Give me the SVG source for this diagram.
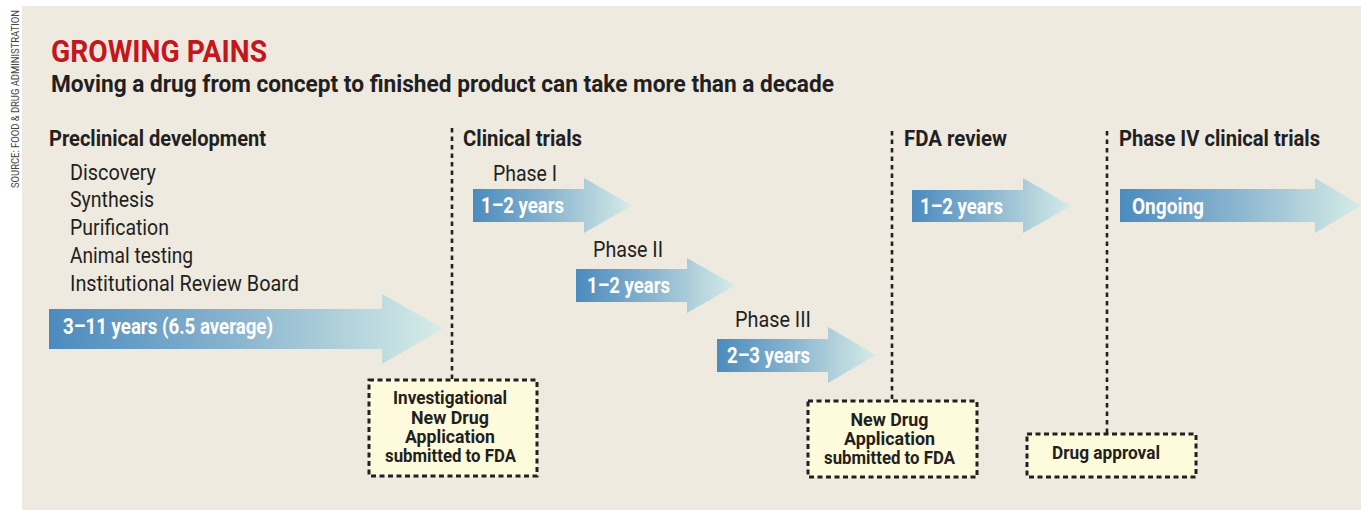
<svg xmlns="http://www.w3.org/2000/svg" width="1361" height="510" viewBox="0 0 1361 510">
  <defs>
    <linearGradient id="flow" x1="0" y1="0" x2="1" y2="0">
      <stop offset="0" stop-color="#4b8bbe"/>
      <stop offset="0.45" stop-color="#86b2ce"/>
      <stop offset="1" stop-color="#d6ece7"/>
    </linearGradient>
    <style>
      .t { font-family: Roboto, "Liberation Sans", sans-serif; fill: #231f20; }
      .b { font-weight: 700; }
      .title { font-size: 31px; fill: #c4161c; }
      .sub { font-size: 23.5px; }
      .hdr { font-size: 21.5px; }
      .item { font-size: 21.5px; }
      .lbl { font-size: 21.5px; fill: #fff; }
      .box-t { font-size: 17.5px; text-anchor: middle; }
      .src { font-size: 10.5px; fill: #444; }
      .arrow { fill: url(#flow); }
      .box { fill: #fefbdc; stroke: #231f20; stroke-width: 3; stroke-dasharray: 5 3.5; }
      .guide { stroke: #231f20; stroke-width: 2.6; stroke-dasharray: 4.5 4; fill: none; }
    </style>
  </defs>

  <!-- page and panel -->
  <rect x="0" y="0" width="1361" height="510" fill="#ffffff"/>
  <rect x="22" y="6" width="1339" height="504" fill="#eeeae0"/>

  <text class="t src" transform="translate(19,188) rotate(-90)" textLength="178" lengthAdjust="spacingAndGlyphs">SOURCE: FOOD &amp; DRUG ADMINISTRATION</text>

  <!-- headline -->
  <g id="heading">
    <text class="t b title" x="51" y="61.5" textLength="216" lengthAdjust="spacingAndGlyphs">GROWING PAINS</text>
    <text class="t b sub" x="51" y="92" textLength="783" lengthAdjust="spacingAndGlyphs">Moving a drug from concept to finished product can take more than a decade</text>
  </g>

  <!-- stage boundaries -->
  <g id="connectors">
    <line class="guide" x1="452" y1="128" x2="452" y2="379"/>
    <line class="guide" x1="892" y1="131" x2="892" y2="401"/>
    <line class="guide" x1="1107" y1="131" x2="1107" y2="434"/>
  </g>

  <!-- preclinical stage -->
  <g id="preclinical">
    <text class="t b hdr" x="49" y="146" textLength="217" lengthAdjust="spacingAndGlyphs">Preclinical development</text>
    <text class="t item" x="70" y="180" textLength="86" lengthAdjust="spacingAndGlyphs">Discovery</text>
    <text class="t item" x="70" y="207" textLength="84" lengthAdjust="spacingAndGlyphs">Synthesis</text>
    <text class="t item" x="70" y="235" textLength="99" lengthAdjust="spacingAndGlyphs">Purification</text>
    <text class="t item" x="70" y="263" textLength="123" lengthAdjust="spacingAndGlyphs">Animal testing</text>
    <text class="t item" x="70" y="291" textLength="229" lengthAdjust="spacingAndGlyphs">Institutional Review Board</text>
    <polygon class="arrow" points="49,309 382,309 382,294 443,328.5 382,364 382,349 49,349"/>
    <text class="t b lbl" x="63" y="334" textLength="210" lengthAdjust="spacingAndGlyphs">3–11 years (6.5 average)</text>
  </g>

  <!-- clinical trials stage -->
  <g id="clinical">
    <text class="t b hdr" x="463" y="146" textLength="119" lengthAdjust="spacingAndGlyphs">Clinical trials</text>
  </g>
  <g id="phase1">
    <text class="t item" x="493" y="181" textLength="64" lengthAdjust="spacingAndGlyphs">Phase I</text>
    <polygon class="arrow" points="473,189 584,189 584,178 632,205.5 584,233 584,222 473,222"/>
    <text class="t b lbl" x="481" y="213" textLength="83" lengthAdjust="spacingAndGlyphs">1–2 years</text>
  </g>
  <g id="phase2">
    <text class="t item" x="593" y="257" textLength="70" lengthAdjust="spacingAndGlyphs">Phase II</text>
    <polygon class="arrow" points="576,269 687,269 687,258 735,285.5 687,313 687,302 576,302"/>
    <text class="t b lbl" x="587" y="293" textLength="83" lengthAdjust="spacingAndGlyphs">1–2 years</text>
  </g>
  <g id="phase3">
    <text class="t item" x="735" y="327" textLength="76" lengthAdjust="spacingAndGlyphs">Phase III</text>
    <polygon class="arrow" points="717,339 828,339 828,327 876,355 828,383 828,372 717,372"/>
    <text class="t b lbl" x="727" y="363" textLength="83" lengthAdjust="spacingAndGlyphs">2–3 years</text>
  </g>

  <!-- FDA review stage -->
  <g id="fda-review">
    <text class="t b hdr" x="904" y="146" textLength="103" lengthAdjust="spacingAndGlyphs">FDA review</text>
    <polygon class="arrow" points="912,190 1023,190 1023,178 1071,206 1023,233 1023,222 912,222"/>
    <text class="t b lbl" x="920" y="214" textLength="83" lengthAdjust="spacingAndGlyphs">1–2 years</text>
  </g>

  <!-- post-approval stage -->
  <g id="phase4">
    <text class="t b hdr" x="1119" y="146" textLength="201" lengthAdjust="spacingAndGlyphs">Phase IV clinical trials</text>
    <polygon class="arrow" points="1120,189 1315,189 1315,178 1361,205.5 1315,233 1315,222 1120,222"/>
    <text class="t b lbl" x="1132" y="214" textLength="72" lengthAdjust="spacingAndGlyphs">Ongoing</text>
  </g>

  <!-- milestones -->
  <g id="ind-filing">
    <rect class="box" x="369" y="380" width="168" height="96"/>
    <text class="t b box-t" x="450" y="404" textLength="114" lengthAdjust="spacingAndGlyphs">Investigational</text>
    <text class="t b box-t" x="450" y="424" textLength="78" lengthAdjust="spacingAndGlyphs">New Drug</text>
    <text class="t b box-t" x="450" y="443" textLength="90" lengthAdjust="spacingAndGlyphs">Application</text>
    <text class="t b box-t" x="450.5" y="462" textLength="131" lengthAdjust="spacingAndGlyphs">submitted to FDA</text>
  </g>
  <g id="nda-filing">
    <rect class="box" x="808" y="401" width="169" height="76"/>
    <text class="t b box-t" x="889.5" y="426" textLength="78" lengthAdjust="spacingAndGlyphs">New Drug</text>
    <text class="t b box-t" x="889.5" y="445" textLength="91" lengthAdjust="spacingAndGlyphs">Application</text>
    <text class="t b box-t" x="889.5" y="464" textLength="131" lengthAdjust="spacingAndGlyphs">submitted to FDA</text>
  </g>
  <g id="approval">
    <rect class="box" x="1027" y="434" width="169" height="43"/>
    <text class="t b box-t" x="1106" y="459" textLength="108" lengthAdjust="spacingAndGlyphs">Drug approval</text>
  </g>
</svg>
